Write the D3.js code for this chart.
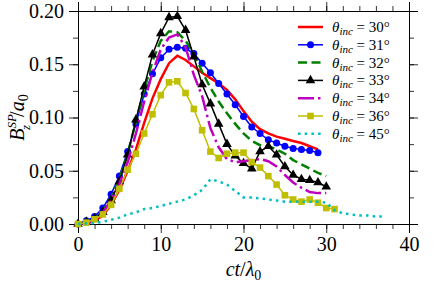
<!DOCTYPE html>
<html>
<head>
<meta charset="utf-8">
<script src="https://cdn.jsdelivr.net/npm/d3@7"></script>
<style>
  body { margin: 0; background: #fff; }
  svg text { font-family: "Liberation Serif", "DejaVu Serif", serif; fill: #000; }
</style>
</head>
<body>
<div id="chart"></div>
<script>
// values sampled at ct/lambda0 = 0, 1, 2, ... (index = time)
var theta30 = [0, 0.001, 0.003, 0.008, 0.018, 0.032, 0.050, 0.070, 0.095, 0.118, 0.136, 0.151, 0.158, 0.154, 0.148,
  0.142, 0.137, 0.132, 0.126, 0.117, 0.106, 0.096, 0.089, 0.085, 0.082, 0.080, 0.078, 0.076, 0.073, 0.070];
var theta31 = [0, 0.003, 0.007, 0.015, 0.028, 0.045, 0.068, 0.094, 0.122, 0.141, 0.156, 0.164, 0.166, 0.165, 0.160,
  0.151, 0.142, 0.132, 0.122, 0.112, 0.101, 0.091, 0.085, 0.079, 0.076, 0.073, 0.071, 0.070, 0.069, 0.067];
var theta32 = [0, 0.002, 0.005, 0.012, 0.025, 0.042, 0.066, 0.096, 0.126, 0.153, 0.172, 0.181, 0.180, 0.172, 0.160,
  0.143, 0.128, 0.115, 0.104, 0.094, 0.085, 0.078, 0.074, 0.073, 0.070, 0.066, 0.060, 0.056, 0.052, 0.048, 0.045];
var theta33 = [0, 0.002, 0.005, 0.011, 0.022, 0.040, 0.065, 0.098, 0.129, 0.159, 0.179, 0.194, 0.195, 0.182, 0.157,
  0.131, 0.113, 0.094, 0.075, 0.064, 0.057, 0.052, 0.068, 0.073, 0.065, 0.054, 0.046, 0.042, 0.041, 0.039, 0.035];
var theta34 = [0, 0.001, 0.004, 0.011, 0.022, 0.038, 0.058, 0.085, 0.115, 0.142, 0.164, 0.175, 0.178, 0.166, 0.140,
  0.120, 0.090, 0.072, 0.061, 0.058, 0.059, 0.060, 0.061, 0.059, 0.054, 0.046, 0.039, 0.034, 0.030, 0.029, 0.029];
var theta36 = [0, 0.0013, 0.0044, 0.009, 0.018, 0.033, 0.051, 0.066, 0.085, 0.103, 0.121, 0.133, 0.134, 0.123, 0.108,
  0.088, 0.068, 0.062, 0.066, 0.067, 0.067, 0.058, 0.053, 0.045, 0.037, 0.027, 0.023, 0.021, 0.023, 0.020, 0.015, 0.014];
var theta45 = [0, 0.0005, 0.001, 0.002, 0.004, 0.006, 0.009, 0.011, 0.014, 0.015, 0.017, 0.019, 0.021, 0.023, 0.027,
  0.032, 0.042, 0.040, 0.037, 0.031, 0.025, 0.025, 0.024, 0.023, 0.022, 0.021, 0.021, 0.021, 0.021, 0.021, 0.020,
  0.013, 0.010, 0.009, 0.008, 0.008, 0.007, 0.007];

var legendAngles = ["30", "31", "32", "33", "34", "36", "45"];
var xTicks = [0, 10, 20, 30, 40];
var yTicks = [0, 0.05, 0.10, 0.15, 0.20];

var series = [
  {data: theta30, color: "#ff0000", width: 2.5, dash: null, marker: null},
  {data: theta31, color: "#0000ff", width: 1.5, dash: null, marker: "circle"},
  {data: theta32, color: "#008000", width: 2.5, dash: "9,4.5", marker: null},
  {data: theta33, color: "#000000", width: 1.5, dash: null, marker: "triangle"},
  {data: theta34, color: "#bf00bf", width: 2.5, dash: "16,4,2.5,4", marker: null},
  {data: theta36, color: "#bfbf00", width: 1.5, dash: null, marker: "square"},
  {data: theta45, color: "#00bfbf", width: 2.5, dash: "2.5,4.2", marker: null}
];

var W = 436, H = 285;
var margin = {top: 11, right: 27, bottom: 61, left: 78};
var width = W - margin.left - margin.right;
var height = H - margin.top - margin.bottom;

var svg = d3.select("#chart").append("svg")
    .attr("width", W)
    .attr("height", H);

var g = svg.append("g")
    .attr("transform", "translate(" + margin.left + "," + margin.top + ")");

var xScale = d3.scaleLinear().domain([0, 40]).range([0, width]);
var yScale = d3.scaleLinear().domain([0, 0.2]).range([height, 0]);

// ticks: major labelled, minor in between, on all four sides
var xMinor = d3.range(0, 40.01, 2);
var yMinor = d3.range(0, 0.2001, 0.025);

g.append("g").attr("transform", "translate(0," + height + ")")
    .call(d3.axisBottom(xScale).tickValues(xMinor).tickSize(5).tickFormat(""));
g.append("g").attr("transform", "translate(0," + height + ")")
    .call(d3.axisBottom(xScale).tickValues(xTicks).tickSize(9).tickPadding(4).tickFormat(d3.format("d")))
    .selectAll("text").attr("font-size", 20);
g.append("g").call(d3.axisTop(xScale).tickValues(xMinor).tickSize(5).tickFormat(""));
g.append("g").call(d3.axisTop(xScale).tickValues(xTicks).tickSize(9).tickFormat(""));

g.append("g")
    .call(d3.axisLeft(yScale).tickValues(yMinor).tickSize(5).tickFormat(""));
g.append("g")
    .call(d3.axisLeft(yScale).tickValues(yTicks).tickSize(9).tickPadding(5).tickFormat(d3.format(".2f")))
    .selectAll("text").attr("font-size", 20);
g.append("g").attr("transform", "translate(" + width + ",0)")
    .call(d3.axisRight(yScale).tickValues(yMinor).tickSize(5).tickFormat(""));
g.append("g").attr("transform", "translate(" + width + ",0)")
    .call(d3.axisRight(yScale).tickValues(yTicks).tickSize(9).tickFormat(""));

g.selectAll(".domain").attr("stroke", "#000").attr("stroke-width", 1);
g.selectAll(".tick line").attr("stroke", "#000").attr("stroke-width", 0.8);

var line = d3.line()
    .x(function(d, i) { return xScale(i); })
    .y(function(d) { return yScale(d); });

function drawMarker(sel, type, color) {
  if (type === "circle") {
    sel.append("circle").attr("r", 3.5).attr("fill", color);
  } else if (type === "triangle") {
    sel.append("path").attr("d", d3.symbol().type(d3.symbolTriangle).size(40)).attr("fill", color);
  } else if (type === "square") {
    sel.append("rect").attr("x", -3.3).attr("y", -3.3).attr("width", 6.6).attr("height", 6.6).attr("fill", color);
  }
}

series.forEach(function(s) {
  g.append("path")
      .datum(s.data)
      .attr("d", line)
      .attr("fill", "none")
      .attr("stroke", s.color)
      .attr("stroke-width", s.width)
      .attr("stroke-dasharray", s.dash);
  if (s.marker) {
    var m = g.append("g").selectAll("g")
        .data(s.data)
        .enter().append("g")
        .attr("transform", function(d, i) { return "translate(" + xScale(i) + "," + yScale(d) + ")"; });
    drawMarker(m, s.marker, s.color);
  }
});

// legend
var legend = svg.append("g").attr("transform", "translate(298,27)");
series.forEach(function(s, i) {
  var row = legend.append("g").attr("transform", "translate(0," + (i * 17.8) + ")");
  row.append("line")
      .attr("x1", 0).attr("x2", 25)
      .attr("stroke", s.color)
      .attr("stroke-width", s.width)
      .attr("stroke-dasharray", s.dash);
  if (s.marker) {
    drawMarker(row.append("g").attr("transform", "translate(12.5,0)"), s.marker, s.color);
  }
  var t = row.append("text").attr("x", 34).attr("y", 5).attr("font-size", 15);
  t.append("tspan").attr("font-style", "italic").text("θ");
  t.append("tspan").attr("font-style", "italic").attr("font-size", 11).attr("dy", 3).text("inc");
  t.append("tspan").attr("dy", -3).text(" = " + legendAngles[i] + "°");
});

// axis labels
var xl = svg.append("text")
    .attr("x", margin.left + width / 2)
    .attr("y", 276)
    .attr("text-anchor", "middle")
    .attr("font-size", 20);
xl.append("tspan").attr("font-style", "italic").text("ct");
xl.append("tspan").text("/");
xl.append("tspan").attr("font-style", "italic").text("λ");
xl.append("tspan").attr("font-size", 14).attr("dy", 4).text("0");

var yl = svg.append("text")
    .attr("transform", "translate(24," + (margin.top + height / 2) + ") rotate(-90)")
    .attr("text-anchor", "middle")
    .attr("font-size", 20);
yl.append("tspan").attr("font-style", "italic").text("B");
yl.append("tspan").attr("font-style", "italic").attr("font-size", 13).attr("dy", -8).text("SP");
yl.append("tspan").attr("font-style", "italic").attr("font-size", 13).attr("dx", -16).attr("dy", 14).text("z");
yl.append("tspan").attr("dx", 8).attr("dy", -6).text("/");
yl.append("tspan").attr("font-style", "italic").text("a");
yl.append("tspan").attr("font-size", 14).attr("dy", 4).text("0");
</script>
</body>
</html>
